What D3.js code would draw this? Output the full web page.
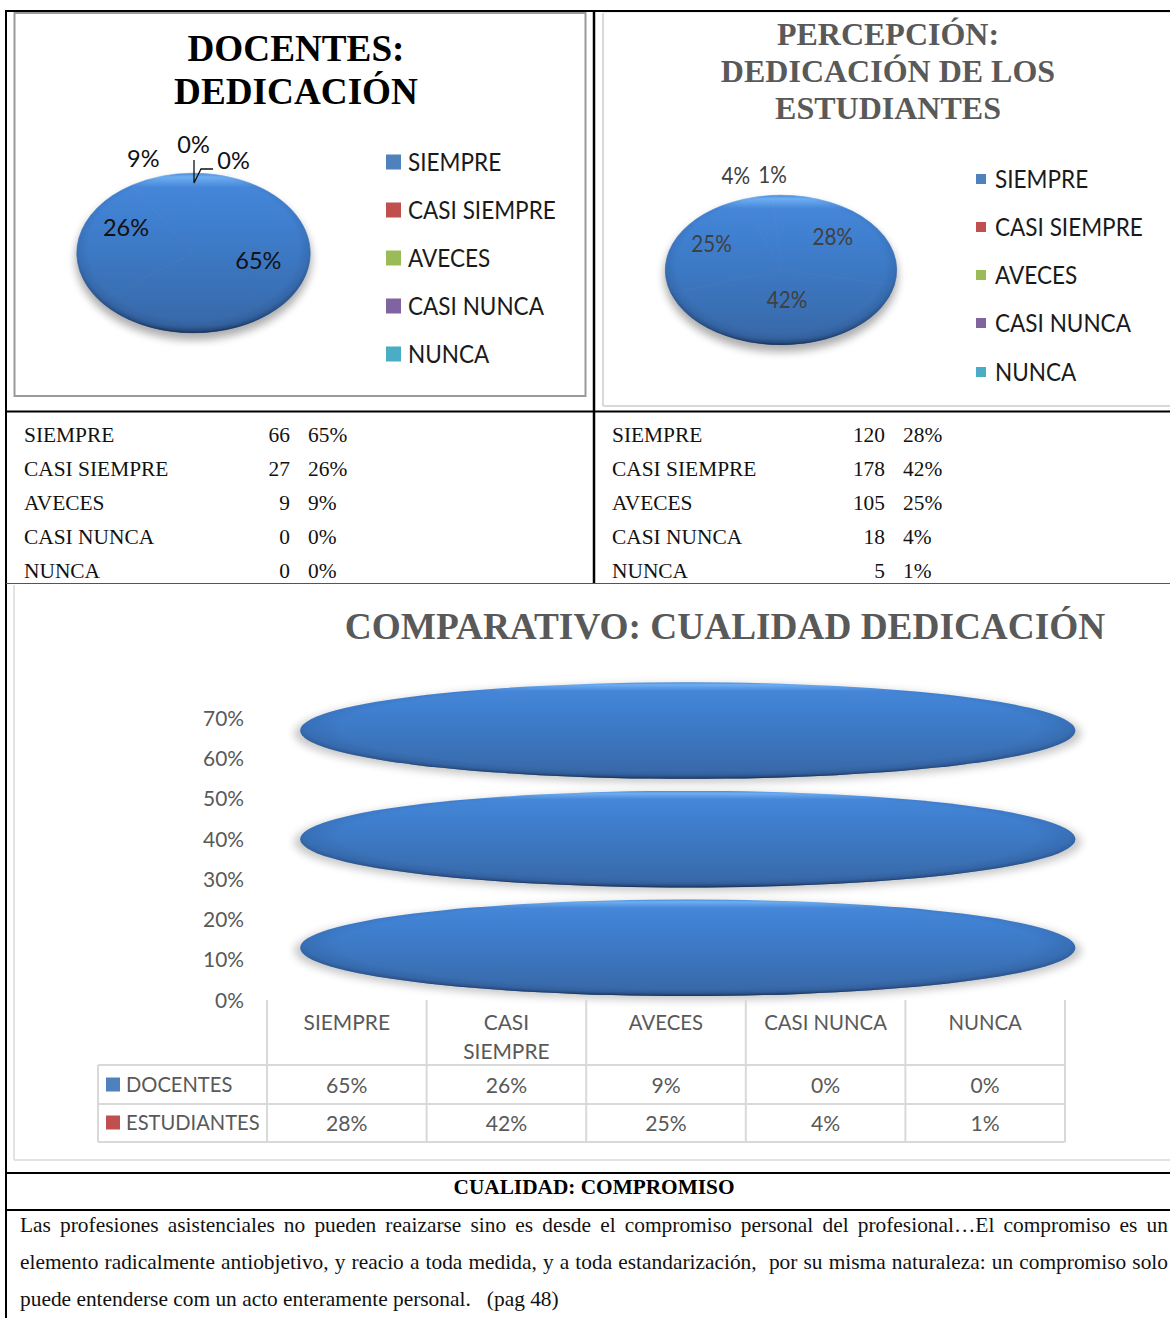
<!DOCTYPE html>
<html><head><meta charset="utf-8">
<script src="https://cdnjs.cloudflare.com/ajax/libs/d3/7.8.5/d3.min.js"></script>
<style>html,body{margin:0;padding:0;background:#fff}svg{display:block}</style></head>
<body><svg id="c" width="1170" height="1318"></svg>
<script>
const categories=["SIEMPRE","CASI SIEMPRE","AVECES","CASI NUNCA","NUNCA"];
const docentesCount=[66,27,9,0,0];
const docentesPct=[65,26,9,0,0];
const estudiantesCount=[120,178,105,18,5];
const estudiantesPct=[28,42,25,4,1];
const legendColors=["#4f81bd","#c0504d","#9bbb59","#8064a2","#4bacc6"];
const ovalLow=[55,28,1];
const ovalHigh=[79,52,25];
const yTicks=[0,10,20,30,40,50,60,70];
const paragraph=[
 "Las profesiones asistenciales no pueden reaizarse sino es desde el compromiso personal del profesional…El compromiso es un",
 "elemento radicalmente antiobjetivo, y reacio a toda medida, y a toda estandarización,  por su misma naturaleza: un compromiso solo",
 "puede entenderse com un acto enteramente personal.   (pag 48)"];

const svg=d3.select("#c");
const SERIF="'Liberation Serif',serif", SANS="Lato,Carlito,sans-serif";
const defs=svg.append("defs");
function stops(g,a){a.forEach(s=>g.append("stop").attr("offset",s[0]).attr("stop-color",s[1]).attr("stop-opacity",s[2]===undefined?1:s[2]));}
const bodyStops=[[0,"#4d90de"],[.025,"#6eaef2"],[.09,"#4586d8"],[.3,"#3f7fcf"],[.75,"#3a70b5"],[.95,"#3868a8"],[1,"#2f5a92"]];
stops(defs.append("linearGradient").attr("id","body").attr("x1",0).attr("x2",0).attr("y1",0).attr("y2",1),bodyStops);
stops(defs.append("linearGradient").attr("id","sliceBody").attr("gradientUnits","userSpaceOnUse").attr("x1",0).attr("x2",0).attr("y1",-100).attr("y2",100),bodyStops);
stops(defs.append("radialGradient").attr("id","rim").attr("cx",.5).attr("cy",.47).attr("r",.53),[[0,"#12294f",0],[.85,"#12294f",0],[.93,"#12294f",.12],[.97,"#12294f",.36],[1,"#12294f",.85]]);
const blur=defs.append("filter").attr("id","blur").attr("x","-20%").attr("y","-30%").attr("width","140%").attr("height","160%");
blur.append("feGaussianBlur").attr("stdDeviation",4);

function hline(x1,x2,y,c,w){svg.append("line").attr("x1",x1).attr("x2",x2).attr("y1",y).attr("y2",y).attr("stroke",c).attr("stroke-width",w);}
function vline(x,y1,y2,c,w){svg.append("line").attr("x1",x).attr("x2",x).attr("y1",y1).attr("y2",y2).attr("stroke",c).attr("stroke-width",w);}
function text(x,y,s,size,fam,fill,anchor,weight){return svg.append("text").attr("x",x).attr("y",y).attr("dy",".35em").attr("font-size",size).attr("font-family",fam).attr("fill",fill).attr("text-anchor",anchor||"start").attr("font-weight",weight||"normal").text(s);}
function squeeze(sel,k){sel.each(function(){const n=d3.select(this);n.attr("textLength",this.getComputedTextLength()*k).attr("lengthAdjust","spacingAndGlyphs");});return sel;}
const NARROW=.92;

// chart panels
svg.append("rect").attr("x",14.5).attr("y",13).attr("width",571).attr("height",383).attr("fill","#fff").attr("stroke","#9a9a9a").attr("stroke-width",2);
vline(603,13,406,"#d9d9d9",2);hline(603,1170,406,"#d9d9d9",2);hline(603,1170,12,"#d9d9d9",1);
vline(14,585,1160,"#e2e2e2",2);hline(14,1170,1160,"#e2e2e2",2);

function pieChart(o){
 const pie=d3.pie().sort(null).value(d=>d)(o.counts);
 const arc=d3.arc().innerRadius(0).outerRadius(99.7);
 const lab=d3.arc().innerRadius(60).outerRadius(60);
 svg.append("ellipse").attr("cx",o.cx).attr("cy",o.cy+6).attr("rx",o.rx+1).attr("ry",o.ry+1).attr("fill","#000").attr("opacity",.32).attr("filter","url(#blur)");
 const g=svg.append("g").attr("transform",`translate(${o.cx},${o.cy}) scale(${o.rx/100},${o.ry/100})`);
 g.selectAll("path.s").data(pie).join("path").attr("class","s").attr("d",arc).attr("fill","url(#sliceBody)").attr("stroke","url(#sliceBody)").attr("stroke-width",.6);
 g.append("circle").attr("r",100).attr("fill","url(#rim)");
 pie.forEach((d,i)=>{
  const c=lab.centroid(d);
  squeeze(text(o.cx+c[0]*o.rx/100+o.nudge[i][0],o.cy+c[1]*o.ry/100+o.nudge[i][1],o.pct[i]+"%",o.labelSize,SANS,o.labelColor,"middle"),o.labelK);
 });
 categories.forEach((c,i)=>{
  const y=o.legendY[i];
  svg.append("rect").attr("x",o.keyX).attr("y",y-o.key/2).attr("width",o.key).attr("height",o.key).attr("fill",legendColors[i]);
  squeeze(text(o.textX,y,c,24.5,SANS,"#1a1a1a"),NARROW);
 });
}
pieChart({counts:docentesCount,pct:docentesPct,cx:193.5,cy:253,rx:117,ry:80,labelColor:"#111",labelSize:24,labelK:.98,
 nudge:[[2,-14],[1.5,-17],[-31,-48],[0,-60],[40,-44]],keyX:386,key:15,textX:408,legendY:[162,210,258,306,354]});
pieChart({counts:estudiantesCount,pct:estudiantesPct,cx:781,cy:270,rx:116,ry:75,labelColor:"#404040",labelSize:23,labelK:.9,
 nudge:[[-2,-5],[2,-15],[-7,-6],[-31,-50],[-6,-50]],keyX:976,key:10,textX:995,legendY:[179,227,275,323,372]});
svg.append("path").attr("d","M194,160V183L201,169H213").attr("fill","none").attr("stroke","#111").attr("stroke-width",1.3);

text(296,48,"DOCENTES:",37.2,SERIF,"#000","middle","bold");
text(296,91,"DEDICACIÓN",37.2,SERIF,"#000","middle","bold");
["PERCEPCIÓN:","DEDICACIÓN DE LOS","ESTUDIANTES"].forEach((t,i)=>text(888,34+i*37,t,32,SERIF,"#595959","middle","bold"));

// data tables
function dataTable(lx,vx,px,counts,pct){
 categories.forEach((c,i)=>{
  const y=435+i*34;
  text(lx,y,c,21.4,SERIF,"#111");
  text(vx,y,counts[i],21.4,SERIF,"#111","end");
  text(px,y,pct[i]+"%",21.4,SERIF,"#111");
 });
}
dataTable(24,290,308,docentesCount,docentesPct);
dataTable(612,885,903,estudiantesCount,estudiantesPct);

// comparison chart
text(725,626,"COMPARATIVO: CUALIDAD DEDICACIÓN",37.3,SERIF,"#595959","middle","bold");
const y=d3.scaleLinear().domain([0,70]).range([1000,718.5]);
const x=d3.scaleBand().domain(categories).range([267,1065]);
const axis=svg.append("g").attr("transform","translate(252,0)").call(d3.axisLeft(y).tickValues(yTicks).tickFormat(d=>d+"%").tickSize(0).tickPadding(8));
axis.select(".domain").remove();
squeeze(axis.selectAll("text").attr("font-size",22).attr("font-family",SANS).attr("fill","#595959"),.95);

const ovalX0=x.range()[0]+x.step()*.208, ovalX1=x.range()[1]+x.step()*.065;
const ov=svg.append("g");
ovalLow.forEach((lo,i)=>{
 const cy=(y(lo)+y(ovalHigh[i]))/2, ry=(y(lo)-y(ovalHigh[i]))/2, cx=(ovalX0+ovalX1)/2, rx=(ovalX1-ovalX0)/2;
 ov.append("ellipse").attr("cx",cx).attr("cy",cy+3).attr("rx",rx+6).attr("ry",ry+1).attr("fill","#000").attr("opacity",.22).attr("filter","url(#blur)");
});
ovalLow.forEach((lo,i)=>{
 const cy=(y(lo)+y(ovalHigh[i]))/2, ry=(y(lo)-y(ovalHigh[i]))/2, cx=(ovalX0+ovalX1)/2, rx=(ovalX1-ovalX0)/2;
 ov.append("ellipse").attr("cx",cx).attr("cy",cy).attr("rx",rx).attr("ry",ry).attr("fill","url(#body)");
 ov.append("ellipse").attr("cx",cx).attr("cy",cy).attr("rx",rx).attr("ry",ry).attr("fill","url(#rim)");
});

// data table below chart
const GRID="#d9d9d9";
const rows=[["DOCENTES",docentesPct,legendColors[0],1085],["ESTUDIANTES",estudiantesPct,legendColors[1],1123]];
[1065,1104,1142].forEach(v=>hline(98,1065,v,GRID,2));
vline(98,1065,1142,GRID,2);
x.domain().forEach(c=>vline(x(c),1000,1142,GRID,2));
vline(x.range()[1],1000,1142,GRID,2);
categories.forEach(c=>{
 const cx=x(c)+x.bandwidth()/2;
 if(c==="CASI SIEMPRE"){squeeze(text(cx,1022,"CASI",22,SANS,"#595959","middle"),.95);squeeze(text(cx,1051,"SIEMPRE",22,SANS,"#595959","middle"),.95);}
 else squeeze(text(cx,1022,c,22,SANS,"#595959","middle"),c==="SIEMPRE"?.95:.925);
});
rows.forEach(r=>{
 svg.append("rect").attr("x",106).attr("y",r[3]-7.5).attr("width",14).attr("height",14).attr("fill",r[2]);
 squeeze(text(126,r[3]-1,r[0],22,SANS,"#595959"),.915);
 categories.forEach((c,i)=>squeeze(text(x(c)+x.bandwidth()/2,r[3],r[1][i]+"%",22,SANS,"#595959","middle"),.96));
});

// text block
text(594,1186.5,"CUALIDAD: COMPROMISO",21.3,SERIF,"#000","middle","bold");
paragraph.forEach((l,i)=>{
 const t=text(20,1224.5+i*37,l,21.4,SERIF,"#111").style("white-space","pre");
 if(i<2){
  const len=t.node().getComputedTextLength(), spaces=l.split(" ").length-1;
  t.attr("word-spacing",(1148-len)/spaces);
 }
});

// black rules
const K="#000";
hline(5,1170,11,K,2);
vline(6,11,1318,K,2);
vline(594,11,583,K,2.5);
hline(6,1170,411.5,K,2);
hline(6,1170,583.5,"#555",1.2);
hline(6,1170,1173,K,2);
hline(6,1170,1210,K,2);
</script></body></html>
